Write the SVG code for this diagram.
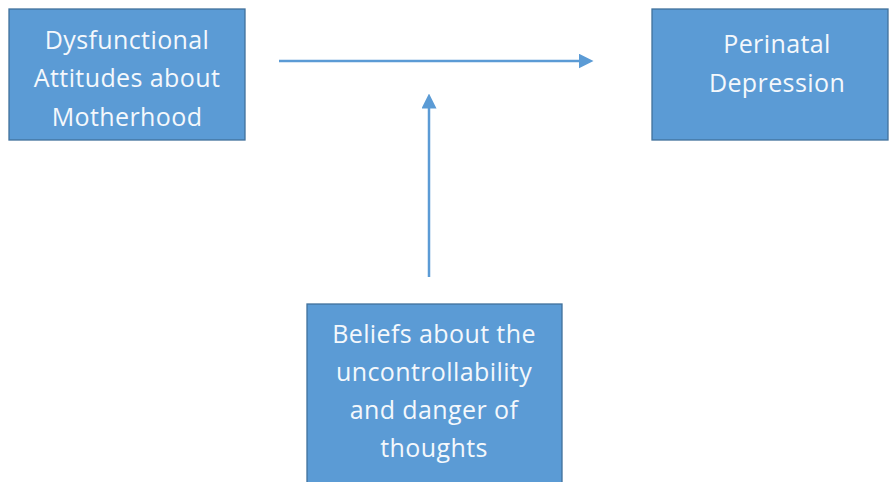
<svg xmlns="http://www.w3.org/2000/svg" width="889" height="482" viewBox="0 0 889 482">
<style>
.box{fill:#5B9BD5;stroke:#41719C;stroke-width:1.3}
.lbl{font-family:"Open Sans","Liberation Sans",sans-serif;font-size:25px;letter-spacing:0.4px;fill:#F4F8FC;text-anchor:middle}
.conn{stroke:#5B9BD5;stroke-width:2.5;fill:none}
</style>
<defs>
<marker id="ah" markerWidth="6" markerHeight="6" refX="3" refY="3" orient="auto" markerUnits="strokeWidth">
<path d="M0,0 L6,3 L0,6 Z" fill="#5B9BD5"/>
</marker>
</defs>
<rect width="889" height="482" fill="#fff"/>
<g id="node-attitudes">
<rect class="box" x="9" y="9" width="236" height="131"/>
<text class="lbl"><tspan x="127" y="49">Dysfunctional</tspan><tspan x="127" y="87">Attitudes about</tspan><tspan x="127" y="126">Motherhood</tspan></text>
</g>
<g id="node-depression">
<rect class="box" x="652" y="9" width="236" height="131"/>
<text class="lbl"><tspan x="777" y="53">Perinatal</tspan><tspan x="777" y="92">Depression</tspan></text>
</g>
<g id="node-beliefs">
<rect class="box" x="307" y="304" width="255" height="190"/>
<text class="lbl"><tspan x="434" y="343">Beliefs about the</tspan><tspan x="434" y="381">uncontrollability</tspan><tspan x="434" y="419">and danger of</tspan><tspan x="434" y="457">thoughts</tspan></text>
</g>
<g id="connectors">
<line class="conn" x1="279" y1="61" x2="586" y2="61" marker-end="url(#ah)"/>
<line class="conn" x1="429" y1="277" x2="429" y2="101" marker-end="url(#ah)"/>
</g>
</svg>
